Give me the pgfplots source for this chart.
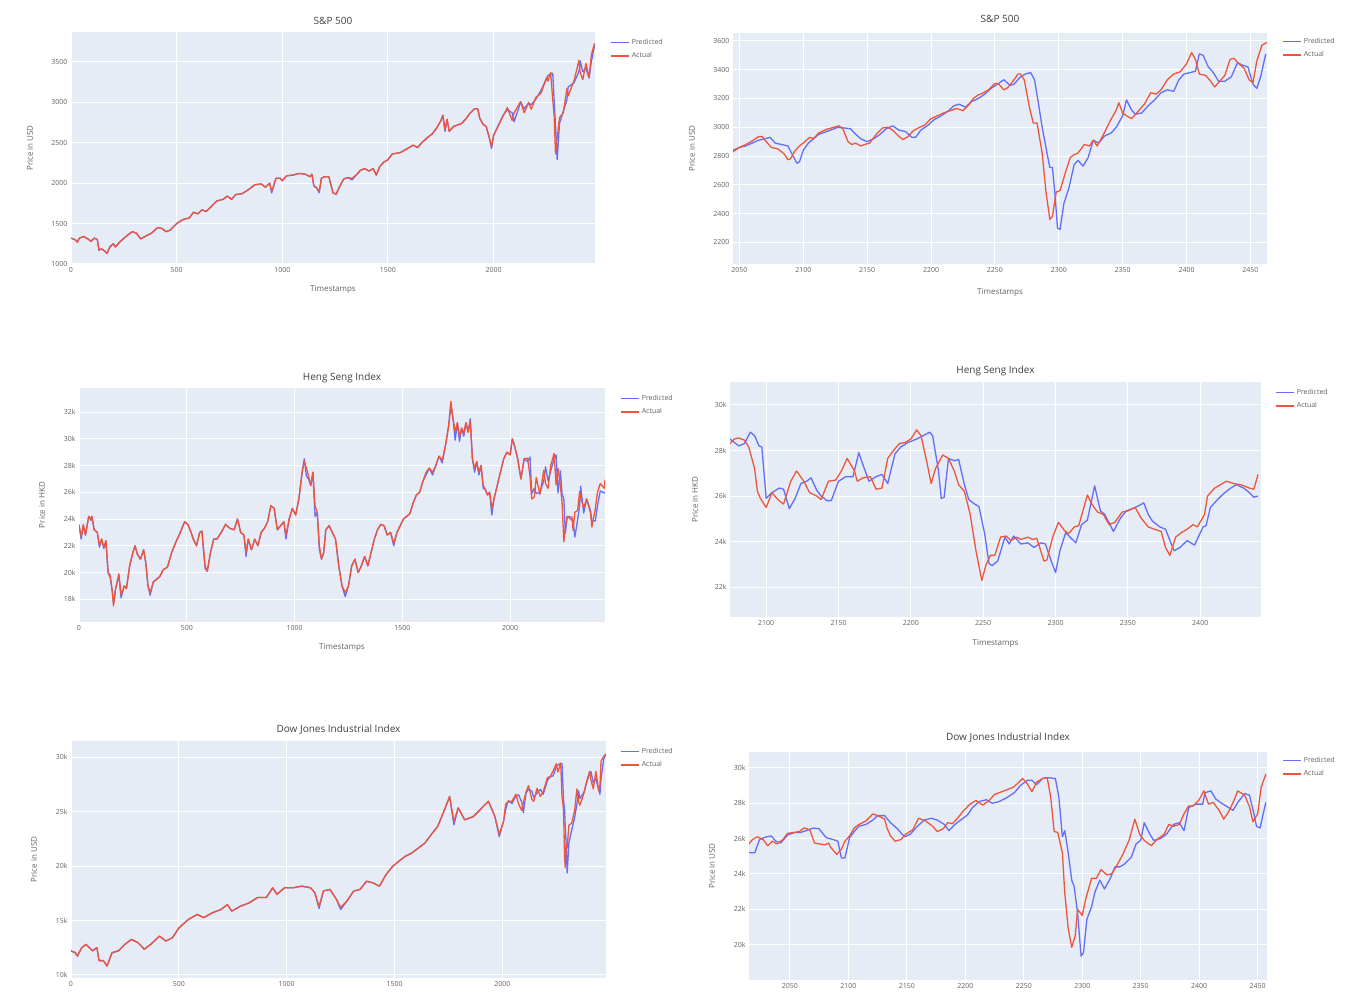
\documentclass[border=0pt]{standalone}
\usepackage{pgfplots}
\pgfplotsset{compat=1.18}
\usepackage{pgfplotstable}
\usepackage{fontspec}
\setmainfont{Open Sans}

\definecolor{bg}{HTML}{E5ECF6}
\definecolor{plblue}{HTML}{636EFA}
\definecolor{plred}{HTML}{EF553B}

% full S&P 500 series: x, predicted, actual
\pgfplotstableread{
x pr ac
0 1320 1320
20 1300 1300
30 1270 1270
40 1320 1320
60 1340 1340
80 1310 1310
95 1280 1280
110 1320 1320
125 1300 1300
132 1170 1180
145 1185 1185
160 1160 1160
170 1130 1130
185 1210 1220
200 1250 1250
210 1210 1210
230 1270 1270
260 1340 1340
290 1400 1400
310 1380 1380
330 1310 1310
350 1340 1340
380 1380 1380
410 1450 1450
430 1440 1440
450 1400 1400
470 1420 1420
500 1500 1500
530 1550 1550
560 1570 1570
580 1640 1640
600 1620 1620
620 1670 1670
640 1650 1650
660 1700 1700
690 1780 1780
720 1800 1800
740 1840 1840
760 1800 1800
780 1860 1860
810 1870 1870
840 1920 1920
870 1980 1980
900 1990 1990
920 1950 1950
940 2000 2000
950 1880 1900
970 2060 2060
990 2060 2060
1000 2030 2030
1020 2090 2090
1050 2100 2100
1080 2120 2120
1110 2110 2110
1130 2080 2080
1140 2110 2110
1150 1960 1960
1160 1950 1950
1175 1880 1900
1185 2060 2060
1200 2080 2080
1220 2080 2080
1240 1880 1880
1255 1860 1870
1270 1950 1950
1290 2050 2050
1310 2070 2070
1330 2040 2060
1350 2100 2100
1370 2160 2160
1390 2180 2180
1410 2150 2150
1430 2180 2180
1445 2100 2100
1460 2200 2200
1480 2260 2260
1500 2290 2290
1520 2360 2360
1540 2370 2370
1560 2380 2380
1580 2410 2410
1600 2440 2440
1620 2470 2470
1640 2440 2440
1660 2500 2500
1690 2570 2570
1710 2610 2610
1730 2680 2680
1750 2770 2770
1760 2840 2840
1770 2640 2660
1780 2790 2790
1790 2640 2640
1810 2700 2700
1830 2720 2720
1850 2740 2740
1870 2800 2800
1890 2870 2870
1910 2920 2920
1925 2920 2920
1935 2800 2800
1950 2730 2730
1965 2700 2700
1980 2560 2560
1990 2430 2450
2000 2590 2590
2020 2700 2700
2045 2840 2830
2065 2910 2935
2088 2870 2775
2097 2760 2870
2128 3000 3010
2145 2920 2870
2166 2990 3000
2178 2970 2915
2200 3040 3060
2225 3150 3115
2250 3290 3305
2257 3330 3260
2270 3350 3370
2280 3360 3030
2287 3000 2820
2293 2720 2360
2301 2290 2560
2312 2740 2810
2330 2890 2870
2347 3030 3170
2353 3190 3080
2380 3240 3260
2404 3380 3520
2410 3510 3370
2422 3380 3280
2437 3420 3480
2452 3300 3310
2463 3510 3590
2478 3700 3730
}\spfull

% full Heng Seng series
\pgfplotstableread{
x pr ac
0 23600 23500
10 22500 22700
20 23500 23600
30 22800 22800
45 24200 24200
55 23900 24000
60 24200 24200
70 23200 23200
85 23000 23000
95 21900 22000
105 22500 22500
115 21800 21900
125 22300 22400
135 20000 20000
145 19600 19800
155 18500 18500
160 17700 17500
170 18800 18800
185 19800 19900
195 18100 18300
210 19000 19000
220 18800 18800
235 20500 20500
250 21500 21500
260 22000 22000
270 21400 21400
285 21000 21000
300 21700 21700
310 20700 20700
320 19000 19000
330 18300 18500
345 19300 19300
360 19500 19500
375 19700 19700
390 20200 20200
410 20400 20400
430 21500 21500
450 22300 22300
470 23000 23000
490 23800 23800
505 23600 23600
520 23000 23000
530 22500 22500
545 22000 22000
560 23000 23000
570 23100 23100
585 20300 20500
595 20100 20100
610 21500 21500
625 22500 22500
640 22500 22500
660 23000 23000
680 23600 23600
700 23300 23300
720 23200 23200
735 24000 24000
750 23000 23000
765 22800 22800
775 21200 21500
785 22500 22500
800 21700 21700
815 22500 22500
830 22000 22000
845 23000 23000
860 23300 23300
875 23800 23800
890 25000 25000
905 24800 24800
920 23200 23200
935 23500 23500
950 23800 23800
960 22500 22800
975 24000 24000
990 24800 24800
1005 24300 24300
1020 25500 25500
1035 27500 27500
1045 28500 28300
1055 27200 27800
1065 27000 27200
1075 26500 26500
1085 27500 27500
1095 24200 25000
1105 24500 24500
1115 21700 22000
1125 21000 21000
1135 21500 21500
1145 23200 23200
1160 23500 23500
1175 23000 23000
1190 22500 22500
1205 20500 20500
1220 19000 19000
1235 18200 18500
1250 19000 19000
1265 20500 20500
1280 21000 21000
1295 20000 20000
1310 20500 20500
1325 21200 21200
1340 20500 20500
1355 21500 21500
1370 22500 22500
1385 23200 23200
1400 23600 23600
1415 23500 23500
1430 22800 22800
1445 23000 23000
1460 22000 22200
1475 23000 23000
1490 23500 23500
1505 24000 24000
1520 24200 24200
1535 24400 24400
1550 25200 25200
1565 25800 25800
1580 26000 26000
1595 26800 26800
1610 27300 27500
1625 27800 27800
1640 27300 27500
1655 28000 28000
1670 28700 28700
1685 28200 28400
1700 29500 29500
1715 31000 31000
1725 32500 32800
1735 31500 31500
1745 29900 30500
1755 31200 31200
1765 29800 30200
1775 30800 30800
1785 30200 30400
1795 31200 31200
1805 30500 30500
1815 31500 31300
1825 28500 28500
1835 27500 27800
1845 28300 28300
1855 27300 27500
1865 28000 28000
1875 26300 26500
1885 26200 26200
1895 25800 25800
1905 26000 26000
1915 24300 24800
1925 25500 25500
1940 26500 26500
1955 27500 27500
1970 28500 28500
1985 29000 29000
2000 28800 28800
2010 30000 30000
2020 29500 29500
2035 28500 28500
2050 27000 27000
2065 28500 28500
2081 28300 28550
2092 28650 27200
2100 25900 25500
2112 26300 25650
2121 25900 27100
2138 26000 25850
2156 26850 27650
2164 27900 26650
2176 26850 26300
2188 27600 28000
2204 28500 28900
2213 28800 26550
2222 25950 27800
2233 27600 26500
2241 25850 25200
2249 25500 22300
2256 22950 23400
2265 24200 24200
2287 23900 24150
2292 23900 23150
2300 22650 24500
2313 23950 24650
2322 24950 26050
2327 26450 25600
2341 24450 24850
2355 25500 25500
2373 24600 24450
2379 23900 23400
2395 23850 24750
2405 25000 26000
2418 26100 26650
2437 25950 26300
2440 26000 26950
}\hsfull

% full Dow Jones series
\pgfplotstableread{
x pr ac
0 12200 12200
20 12000 12050
30 11700 11750
50 12500 12500
70 12800 12800
100 12200 12200
120 12500 12500
130 11300 11300
150 11300 11300
167 10800 10800
190 12000 12050
220 12200 12200
250 12800 12800
280 13250 13250
310 12950 12950
340 12350 12350
370 12800 12800
410 13550 13550
440 13100 13100
470 13400 13400
500 14300 14300
545 15100 15100
585 15550 15550
615 15250 15250
655 15700 15700
695 16000 16000
725 16450 16450
745 15850 15850
785 16300 16300
825 16600 16600
865 17100 17100
905 17100 17100
935 18000 18000
955 17400 17400
990 18000 18000
1030 18000 18000
1070 18150 18150
1110 18000 18000
1130 17550 17550
1150 16100 16300
1170 17700 17700
1200 17850 17850
1230 16950 16950
1250 16000 16200
1280 16800 16800
1310 17700 17700
1340 17850 17850
1370 18600 18600
1400 18450 18450
1430 18150 18150
1460 19200 19200
1490 19950 19950
1520 20450 20450
1550 20900 20900
1580 21200 21200
1610 21650 21650
1640 22100 22100
1670 22900 22900
1700 23650 23650
1735 25350 25350
1755 26400 26400
1775 23800 24100
1795 25350 25350
1825 24250 24250
1865 24550 24550
1905 25350 25350
1935 25950 25950
1965 24550 24550
1985 22700 22900
2005 24100 24100
2015 25200 25700
2027 26000 25950
2044 25750 25950
2062 26450 26600
2075 26550 25700
2090 25850 25100
2097 24900 25850
2109 26700 26800
2121 27050 27400
2136 26900 26150
2145 26300 25950
2160 26700 27150
2176 27050 26400
2189 26600 26850
2209 27900 28150
2221 28200 28200
2235 28300 28750
2249 29100 29400
2257 29300 28650
2270 29450 29450
2276 29400 26400
2283 26100 25200
2288 25200 20900
2291 23650 19850
2296 21800 22000
2300 19350 21650
2308 22150 23750
2321 23300 23950
2335 24500 25150
2345 25700 27100
2353 26900 25900
2359 26200 25600
2378 26800 26700
2391 27750 27850
2404 28500 28700
2410 28700 27950
2421 27650 27100
2433 28050 28700
2446 27000 26950
2452 26600 27400
2457 28050 29650
2470 29900 30100
2480 30300 30300
}\djfull

% text is greyed with opacity rather than colour, so that the
% legend swatches keep their own colours
\pgfplotsset{
  plotlyax/.style={
    scale only axis,
    axis background/.style={fill=bg},
    axis line style={draw=none},
    grid=major,
    major grid style={white, line width=1pt},
    tick style={draw=none},
    scaled ticks=false,
    ticklabel style={font=\fontsize{7}{8}\selectfont, text opacity=0.62},
    /pgf/number format/assume math mode=true,
    /pgf/number format/set thousands separator={},
    title style={font=\fontsize{10}{12}\selectfont, text opacity=0.75, anchor=center, yshift=-6pt},
    label style={font=\fontsize{8}{10}\selectfont, text opacity=0.62},
    legend style={draw=none, fill=none, font=\fontsize{7}{8}\selectfont,
      anchor=north west, row sep=2.5pt, inner sep=0pt, text opacity=0.62},
    legend image code/.code={\draw[##1, line width=1.6pt] (0pt,0pt) -- (18pt,0pt);},
    legend cell align=left,
  },
}

\begin{document}
\begin{tikzpicture}
\path[use as bounding box] (0,0) rectangle (1359pt,1001pt);

% ---------- S&P 500, full ----------
\begin{axis}[plotlyax, at={(71pt,737pt)}, anchor=south west,
  width=524pt, height=232pt,
  xmin=0, xmax=2480, ymin=1000, ymax=3870,
  xtick={0,500,...,2000}, ytick={1000,1500,...,3500},
  title={S\&P 500}, title style={at={([yshift=11pt]axis description cs:0.5,1)}},
  xlabel={Timestamps}, xlabel style={at={([yshift=-26pt]axis description cs:0.5,0)}, anchor=center},
  ylabel={Price in USD}, ylabel style={at={([xshift=-41pt]axis description cs:0,0.5)}, anchor=center},
  legend style={at={([xshift=15pt,yshift=-5pt]axis description cs:1,1)}},
]
\addplot[color=plblue, line width=1.3pt, line join=round] table[x=x, y=pr] {\spfull};
\addplot[color=plred, line width=1.3pt, line join=round] table[x=x, y=ac] {\spfull};
\legend{Predicted, Actual}
\end{axis}

% ---------- S&P 500, test part ----------
\begin{axis}[plotlyax, at={(733pt,737pt)}, anchor=south west,
  width=534pt, height=231pt,
  xmin=2045, xmax=2463, ymin=2050, ymax=3655,
  xtick={2050,2100,...,2450}, ytick={2200,2400,...,3600},
  title={S\&P 500}, title style={at={([yshift=14pt]axis description cs:0.5,1)}},
  xlabel={Timestamps}, xlabel style={at={([yshift=-29pt]axis description cs:0.5,0)}, anchor=center},
  ylabel={Price in USD}, ylabel style={at={([xshift=-41pt]axis description cs:0,0.5)}, anchor=center},
  legend style={at={([xshift=15pt,yshift=-3pt]axis description cs:1,1)}},
]
\addplot[color=plblue, line width=1.3pt, line join=round] coordinates {
(2045,2840) (2050,2860) (2055,2870) (2060,2890) (2065,2910) (2070,2920) (2074,2930)
(2078,2890) (2083,2880) (2088,2870) (2092,2800) (2095,2750) (2097,2760) (2100,2840)
(2104,2890) (2108,2920) (2112,2950) (2118,2970) (2123,2985) (2127,3000) (2132,2995)
(2137,2990) (2140,2960) (2145,2920) (2150,2900) (2155,2920) (2160,2950) (2165,2990)
(2170,3010) (2175,2980) (2180,2970) (2185,2930) (2188,2930) (2192,2980) (2197,3010)
(2202,3050) (2208,3080) (2213,3110) (2218,3150) (2222,3160) (2227,3140) (2232,3180)
(2237,3200) (2242,3230) (2247,3270) (2252,3300) (2257,3330) (2262,3290) (2265,3300)
(2270,3350) (2274,3370) (2278,3380) (2281,3330) (2284,3170) (2287,3000) (2291,2810)
(2293,2720) (2295,2720) (2297,2540) (2299,2300) (2301,2290) (2304,2470) (2308,2580)
(2312,2740) (2315,2770) (2319,2730) (2323,2790) (2327,2910) (2331,2890) (2336,2940)
(2341,2960) (2345,3000) (2350,3080) (2353,3190) (2357,3120) (2360,3090) (2365,3100)
(2370,3150) (2375,3190) (2380,3240) (2385,3260) (2390,3250) (2394,3330) (2398,3370)
(2403,3380) (2407,3390) (2410,3510) (2413,3500) (2417,3420) (2421,3380) (2425,3320)
(2430,3320) (2435,3350) (2440,3450) (2444,3430) (2448,3420) (2452,3300) (2455,3270)
(2458,3350) (2462,3510)};
\addplot[color=plred, line width=1.3pt, line join=round] coordinates {
(2045,2830) (2050,2860) (2055,2880) (2060,2905) (2065,2935) (2068,2935) (2070,2910)
(2075,2860) (2080,2850) (2085,2815) (2088,2775) (2090,2780) (2093,2830) (2097,2870)
(2100,2890) (2105,2930) (2108,2920) (2112,2960) (2118,2985) (2122,2995) (2128,3010)
(2131,2990) (2135,2900) (2138,2880) (2141,2890) (2145,2870) (2148,2880) (2152,2890)
(2157,2950) (2162,2995) (2166,3000) (2170,2980) (2175,2935) (2178,2915) (2182,2935)
(2186,2975) (2190,2995) (2195,3015) (2200,3060) (2205,3080) (2210,3100) (2215,3115)
(2220,3130) (2225,3115) (2230,3160) (2233,3200) (2237,3225) (2240,3235) (2245,3260)
(2250,3305) (2253,3300) (2257,3260) (2260,3275) (2265,3330) (2268,3370) (2270,3370)
(2273,3330) (2277,3140) (2280,3030) (2283,3030) (2287,2820) (2290,2550) (2293,2360)
(2295,2380) (2298,2550) (2301,2560) (2305,2680) (2309,2790) (2312,2810) (2315,2820)
(2320,2880) (2324,2870) (2327,2910) (2330,2870) (2335,2950) (2340,3040) (2345,3120)
(2347,3170) (2350,3100) (2353,3080) (2357,3060) (2362,3110) (2367,3160) (2372,3240)
(2376,3230) (2380,3260) (2385,3330) (2390,3370) (2395,3385) (2400,3440) (2404,3520)
(2407,3470) (2410,3370) (2415,3360) (2418,3330) (2422,3280) (2426,3320) (2430,3360)
(2434,3470) (2437,3480) (2440,3450) (2445,3410) (2449,3330) (2452,3310) (2455,3460)
(2459,3570) (2463,3590)};
\legend{Predicted, Actual}
\end{axis}

% ---------- Heng Seng, full ----------
\begin{axis}[plotlyax, at={(79pt,379pt)}, anchor=south west,
  width=526pt, height=234pt,
  xmin=0, xmax=2440, ymin=16300, ymax=33800,
  xtick={0,500,...,2000},
  ytick={18000,20000,...,32000}, yticklabels={18k,20k,22k,24k,26k,28k,30k,32k},
  title={Heng Seng Index}, title style={at={([yshift=10pt]axis description cs:0.5,1)}},
  xlabel={Timestamps}, xlabel style={at={([yshift=-26pt]axis description cs:0.5,0)}, anchor=center},
  ylabel={Price in HKD}, ylabel style={at={([xshift=-37pt]axis description cs:0,0.5)}, anchor=center},
  legend style={at={([xshift=15pt,yshift=-5pt]axis description cs:1,1)}},
]
\addplot[color=plblue, line width=1.3pt, line join=round] table[x=x, y=pr] {\hsfull};
\addplot[color=plred, line width=1.3pt, line join=round] table[x=x, y=ac] {\hsfull};
\legend{Predicted, Actual}
\end{axis}

% ---------- Heng Seng, test part ----------
\begin{axis}[plotlyax, at={(730pt,384pt)}, anchor=south west,
  width=531pt, height=235pt,
  xmin=2075, xmax=2442, ymin=20700, ymax=31000,
  xtick={2100,2150,...,2400},
  ytick={22000,24000,...,30000}, yticklabels={22k,24k,26k,28k,30k},
  title={Heng Seng Index}, title style={at={([yshift=11pt]axis description cs:0.5,1)}},
  xlabel={Timestamps}, xlabel style={at={([yshift=-27pt]axis description cs:0.5,0)}, anchor=center},
  ylabel={Price in HKD}, ylabel style={at={([xshift=-35pt]axis description cs:0,0.5)}, anchor=center},
  legend style={at={([xshift=14pt,yshift=-5pt]axis description cs:1,1)}},
]
\addplot[color=plblue, line width=1.3pt, line join=round] coordinates {
(2075,28500) (2078,28350) (2081,28200) (2085,28300) (2089,28800) (2092,28650) (2095,28200)
(2097,28150) (2100,25900) (2104,26150) (2109,26350) (2112,26300) (2116,25450) (2120,25900)
(2124,26550) (2128,26650) (2131,26800) (2135,26250) (2138,26000) (2142,25800) (2145,25800)
(2150,26650) (2155,26850) (2160,26850) (2164,27900) (2167,27350) (2171,26650) (2176,26850)
(2180,26950) (2184,26550) (2189,27850) (2193,28150) (2198,28350) (2204,28500) (2210,28700)
(2213,28800) (2215,28650) (2219,27150) (2221,25900) (2223,25950) (2226,27650) (2230,27550)
(2233,27600) (2237,26500) (2240,25850) (2244,25650) (2247,25550) (2251,24350) (2254,23050)
(2256,22950) (2260,23150) (2265,24200) (2268,23900) (2271,24250) (2276,23900) (2281,23950)
(2285,23750) (2290,23950) (2293,23900) (2297,23150) (2300,22650) (2303,23600) (2307,24400)
(2310,24200) (2314,23950) (2318,24750) (2322,24950) (2325,25850) (2327,26450) (2331,25350)
(2334,25200) (2338,24700) (2340,24450) (2345,25050) (2349,25350) (2355,25500) (2361,25700)
(2364,25200) (2367,24900) (2372,24650) (2376,24550) (2380,23900) (2382,23600) (2386,23750)
(2391,24050) (2396,23850) (2402,24650) (2404,24700) (2407,25500) (2412,25850) (2416,26100)
(2421,26350) (2425,26500) (2430,26350) (2434,26150) (2437,25950) (2440,26000)};
\addplot[color=plred, line width=1.3pt, line join=round] coordinates {
(2075,28300) (2078,28500) (2081,28550) (2085,28450) (2088,28150) (2092,27200) (2094,26200)
(2096,25900) (2100,25500) (2104,26150) (2108,25850) (2112,25650) (2117,26650) (2121,27100)
(2126,26650) (2130,26150) (2135,26000) (2138,25850) (2143,26650) (2148,26700) (2152,27100)
(2156,27650) (2161,27100) (2163,26650) (2167,26800) (2172,26850) (2176,26300) (2180,26350)
(2184,27650) (2188,28000) (2192,28300) (2196,28350) (2200,28500) (2204,28900) (2207,28650)
(2211,27500) (2214,26550) (2217,27200) (2222,27800) (2226,27650) (2230,27100) (2233,26500)
(2237,26200) (2241,25200) (2245,23600) (2249,22300) (2252,23000) (2255,23400) (2258,23400)
(2262,24200) (2266,24250) (2269,24050) (2273,24200) (2276,24100) (2281,24200) (2284,24100)
(2287,24150) (2292,23150) (2294,23200) (2298,24200) (2302,24850) (2306,24500) (2309,24350)
(2313,24650) (2316,24700) (2322,26050) (2325,25650) (2329,25300) (2333,25200) (2337,24750)
(2341,24850) (2346,25300) (2350,25350) (2355,25500) (2359,25050) (2364,24650) (2368,24550)
(2373,24450) (2376,23750) (2379,23400) (2383,24200) (2387,24400) (2391,24550) (2395,24750)
(2398,24650) (2403,25200) (2405,26000) (2410,26350) (2414,26500) (2418,26650) (2423,26550)
(2428,26500) (2434,26350) (2437,26300) (2440,26950)};
\legend{Predicted, Actual}
\end{axis}

% ---------- Dow Jones, full ----------
\begin{axis}[plotlyax, at={(71pt,23pt)}, anchor=south west,
  width=535pt, height=237pt,
  xmin=0, xmax=2480, ymin=9700, ymax=31500,
  xtick={0,500,...,2000},
  ytick={10000,15000,...,30000}, yticklabels={10k,15k,20k,25k,30k},
  title={Dow Jones Industrial Index}, title style={at={([yshift=11pt]axis description cs:0.5,1)}},
  ylabel={Price in USD}, ylabel style={at={([xshift=-37pt]axis description cs:0,0.5)}, anchor=center},
  legend style={at={([xshift=14pt,yshift=-5pt]axis description cs:1,1)}},
]
\addplot[color=plblue, line width=1.3pt, line join=round] table[x=x, y=pr] {\djfull};
\addplot[color=plred, line width=1.3pt, line join=round] table[x=x, y=ac] {\djfull};
\legend{Predicted, Actual}
\end{axis}

% ---------- Dow Jones, test part ----------
\begin{axis}[plotlyax, at={(749pt,21pt)}, anchor=south west,
  width=518pt, height=228pt,
  xmin=2015, xmax=2458, ymin=18000, ymax=30900,
  xtick={2050,2100,...,2450},
  ytick={20000,22000,...,30000}, yticklabels={20k,22k,24k,26k,28k,30k},
  title={Dow Jones Industrial Index}, title style={at={([yshift=14pt]axis description cs:0.5,1)}},
  ylabel={Price in USD}, ylabel style={at={([xshift=-37pt]axis description cs:0,0.5)}, anchor=center},
  legend style={at={([xshift=15pt,yshift=-3pt]axis description cs:1,1)}},
]
\addplot[color=plblue, line width=1.3pt, line join=round] coordinates {
(2015,25200) (2020,25200) (2024,25950) (2030,26100) (2034,26150) (2038,25850) (2042,25750)
(2048,26200) (2054,26350) (2059,26350) (2064,26450) (2070,26600) (2075,26550) (2081,26050)
(2087,25950) (2091,25850) (2094,24900) (2097,24900) (2101,26050) (2105,26400) (2109,26700)
(2115,26800) (2121,27050) (2125,27300) (2131,27300) (2136,26900) (2142,26550) (2148,26100)
(2153,26250) (2159,26700) (2165,27050) (2171,27150) (2176,27050) (2182,26800) (2186,26450)
(2191,26800) (2196,27050) (2202,27350) (2206,27750) (2212,28100) (2218,28200) (2223,28000)
(2229,28100) (2235,28300) (2242,28600) (2247,29000) (2253,29300) (2257,29300) (2261,29050)
(2266,29400) (2270,29450) (2277,29400) (2280,28350) (2283,26100) (2285,26450) (2288,25200)
(2291,23650) (2293,23300) (2296,21800) (2299,19350) (2301,19550) (2304,21450) (2308,22150)
(2311,23000) (2315,23650) (2319,23150) (2324,23750) (2328,24400) (2332,24400) (2336,24550)
(2342,24950) (2346,25700) (2350,25900) (2353,26900) (2357,26350) (2361,25900) (2367,26000)
(2372,26250) (2378,26800) (2383,26900) (2387,26450) (2391,27750) (2397,27950) (2403,27950)
(2405,28600) (2410,28700) (2414,28250) (2418,28050) (2424,27800) (2429,27600) (2433,28050)
(2439,28550) (2443,28450) (2447,27350) (2449,26700) (2452,26600) (2457,28050)};
\addplot[color=plred, line width=1.3pt, line join=round] coordinates {
(2015,25700) (2018,25950) (2022,26100) (2027,25950) (2031,25600) (2035,25850) (2039,25700)
(2044,25950) (2048,26300) (2054,26350) (2058,26400) (2062,26600) (2067,26500) (2071,25750)
(2075,25700) (2080,25650) (2083,25750) (2085,25500) (2090,25100) (2094,25400) (2097,25850)
(2101,26150) (2105,26600) (2109,26800) (2115,27000) (2121,27400) (2125,27300) (2131,27100)
(2133,26600) (2136,26150) (2140,25850) (2145,25950) (2149,26250) (2155,26500) (2160,27150)
(2166,27000) (2172,26700) (2176,26400) (2181,26550) (2185,26900) (2189,26850) (2194,27200)
(2198,27550) (2204,27950) (2209,28150) (2215,27900) (2221,28200) (2225,28500) (2229,28600)
(2235,28750) (2241,28900) (2246,29200) (2249,29400) (2253,29100) (2257,28650) (2261,29200)
(2266,29400) (2270,29450) (2273,28350) (2276,26400) (2279,26350) (2283,25200) (2285,22950)
(2288,20900) (2291,19850) (2294,20500) (2296,22000) (2300,21650) (2303,22600) (2308,23750)
(2312,23750) (2316,24250) (2321,23950) (2325,24000) (2329,24400) (2335,25150) (2340,25900)
(2345,27100) (2349,26250) (2353,25900) (2359,25600) (2364,25950) (2370,26250) (2374,26800)
(2378,26700) (2383,26800) (2387,27400) (2391,27850) (2395,27850) (2400,28200) (2404,28700)
(2408,27950) (2412,28050) (2417,27600) (2421,27100) (2425,27500) (2429,28050) (2433,28700)
(2439,28450) (2443,27800) (2446,26950) (2450,27400) (2453,28900) (2457,29650)};
\legend{Predicted, Actual}
\end{axis}
\end{tikzpicture}
\end{document}
